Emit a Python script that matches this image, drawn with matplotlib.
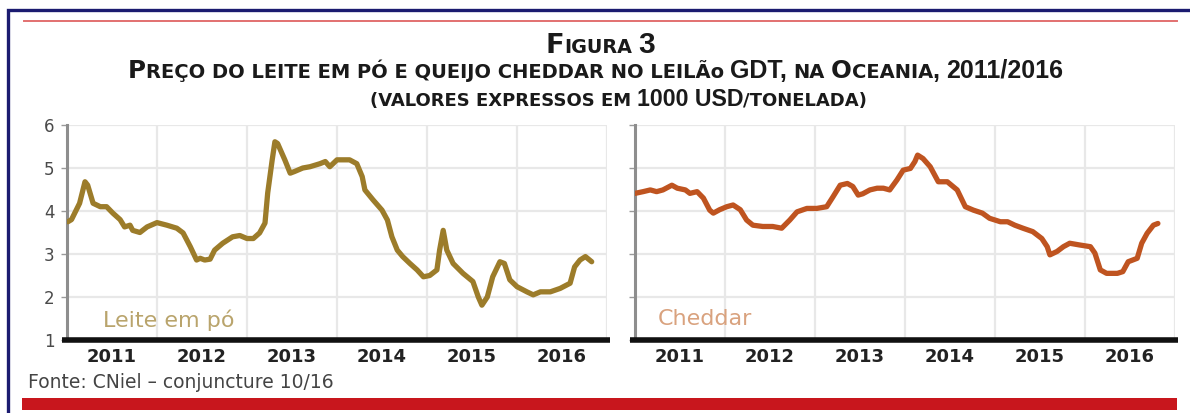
import matplotlib
matplotlib.use("Agg")
import matplotlib.pyplot as plt
from matplotlib.lines import Line2D
from matplotlib.patches import Rectangle
from matplotlib.ticker import NullFormatter

# ---- data (1000 USD per tonne, GDT auctions, Oceania) ----
leite_years = [2011.01, 2011.05, 2011.14, 2011.20, 2011.23, 2011.29, 2011.37, 2011.44,
               2011.51, 2011.59, 2011.64, 2011.70, 2011.73, 2011.81, 2011.89, 2012.00,
               2012.11, 2012.22, 2012.29, 2012.37, 2012.44, 2012.48, 2012.53, 2012.59,
               2012.64, 2012.73, 2012.84, 2012.92, 2013.00, 2013.07, 2013.14, 2013.20,
               2013.23, 2013.28, 2013.31, 2013.34, 2013.42, 2013.48, 2013.53, 2013.62,
               2013.70, 2013.81, 2013.87, 2013.92, 2014.00, 2014.14, 2014.22, 2014.28,
               2014.31, 2014.40, 2014.50, 2014.56, 2014.61, 2014.67, 2014.73, 2014.81,
               2014.89, 2014.96, 2015.03, 2015.11, 2015.14, 2015.18, 2015.22, 2015.29,
               2015.40, 2015.51, 2015.57, 2015.61, 2015.67, 2015.73, 2015.81, 2015.86,
               2015.92, 2016.00, 2016.11, 2016.18, 2016.26, 2016.37, 2016.48, 2016.59,
               2016.64, 2016.70, 2016.76, 2016.83]
leite_values = [3.75, 3.80, 4.18, 4.68, 4.60, 4.18, 4.10, 4.10,
                3.95, 3.80, 3.63, 3.67, 3.55, 3.50, 3.63, 3.73,
                3.67, 3.60, 3.49, 3.17, 2.86, 2.90, 2.86, 2.88,
                3.09, 3.25, 3.40, 3.43, 3.36, 3.36, 3.49, 3.72,
                4.42, 5.19, 5.61, 5.57, 5.19, 4.88, 4.92, 5.00,
                5.03, 5.10, 5.15, 5.03, 5.19, 5.19, 5.10, 4.80,
                4.49, 4.26, 4.02, 3.79, 3.40, 3.09, 2.94, 2.78,
                2.63, 2.47, 2.50, 2.63, 3.09, 3.55, 3.09, 2.78,
                2.55, 2.36, 2.00, 1.81, 2.00, 2.47, 2.82, 2.78,
                2.40, 2.24, 2.12, 2.05, 2.12, 2.12, 2.20, 2.32,
                2.70, 2.86, 2.94, 2.82]

cheddar_years = [2011.00, 2011.09, 2011.17, 2011.24, 2011.31, 2011.41, 2011.47, 2011.56,
                 2011.61, 2011.69, 2011.76, 2011.83, 2011.87, 2011.94, 2012.02, 2012.09,
                 2012.17, 2012.24, 2012.31, 2012.42, 2012.53, 2012.63, 2012.72, 2012.80,
                 2012.91, 2013.02, 2013.13, 2013.20, 2013.28, 2013.36, 2013.42, 2013.48,
                 2013.53, 2013.61, 2013.69, 2013.76, 2013.83, 2013.91, 2013.98, 2014.06,
                 2014.11, 2014.14, 2014.20, 2014.28, 2014.37, 2014.47, 2014.58, 2014.67,
                 2014.76, 2014.86, 2014.94, 2015.06, 2015.14, 2015.22, 2015.31, 2015.42,
                 2015.52, 2015.58, 2015.61, 2015.69, 2015.76, 2015.83, 2015.94, 2016.06,
                 2016.11, 2016.17, 2016.24, 2016.36, 2016.42, 2016.48, 2016.58, 2016.63,
                 2016.69, 2016.76, 2016.81]
cheddar_values = [4.41, 4.45, 4.49, 4.45, 4.49, 4.60, 4.53, 4.49,
                  4.41, 4.45, 4.30, 4.02, 3.95, 4.03, 4.10, 4.14,
                  4.03, 3.79, 3.67, 3.64, 3.64, 3.60, 3.79, 3.98,
                  4.06, 4.06, 4.10, 4.33, 4.60, 4.64, 4.57, 4.37,
                  4.40, 4.49, 4.53, 4.53, 4.49, 4.72, 4.95, 4.99,
                  5.15, 5.30, 5.22, 5.03, 4.68, 4.68, 4.49, 4.10,
                  4.02, 3.95, 3.83, 3.75, 3.75, 3.67, 3.60, 3.52,
                  3.36, 3.17, 2.98, 3.06, 3.17, 3.25, 3.21, 3.17,
                  3.02, 2.63, 2.55, 2.55, 2.59, 2.82, 2.90, 3.25,
                  3.48, 3.67, 3.71]

years = [2011, 2012, 2013, 2014, 2015, 2016]
year_labels = ["2011", "2012", "2013", "2014", "2015", "2016"]
y_ticks = [1, 2, 3, 4, 5, 6]
y_tick_labels = ["1", "2", "3", "4", "5", "6"]
series_names = ["Leite em pó", "Cheddar"]

W, H = 1190, 413
fig = plt.figure(figsize=(W / 100, H / 100), dpi=100)
fig.patch.set_facecolor("white")


def fx(x):
    return x / W


def fy(y):
    return 1 - y / H


# ---- frame decorations ----
fig.add_artist(Rectangle((fx(8), fy(440)), fx(1200) - fx(8), fy(10) - fy(440),
                         transform=fig.transFigure, fill=False,
                         edgecolor="#1b1b70", lw=2.4, clip_on=False))
fig.add_artist(Line2D([fx(24), fx(1177)], [fy(21), fy(21)], transform=fig.transFigure,
                      color="#e27070", lw=1.4))
fig.add_artist(Rectangle((fx(22), fy(410)), fx(1177) - fx(22), fy(398) - fy(410),
                         transform=fig.transFigure, facecolor="#c8161d",
                         edgecolor="none"))

# ---- title lines built from runs (small caps imitation) ----
HEAD = "DejaVu Sans"
NUM = "Liberation Sans"
renderer = fig.canvas.get_renderer()


def draw_runs(runs, baseline_px, left_px, right_px):
    """Lay out text runs on one baseline, scaled so they span left_px..right_px."""
    def build(scale):
        items, total = [], 0.0
        for txt, size, family, gap in runs:
            t = fig.text(0, fy(baseline_px), txt, fontsize=size * scale, family=family,
                         fontweight="bold", color="#1a1a1a", va="baseline", ha="left")
            w = t.get_window_extent(renderer).width
            items.append((t, w, gap * scale))
            total += w + gap * scale
        return items, total

    items, total = build(1.0)
    scale = (right_px - left_px) / total
    for t, _, _ in items:
        t.remove()
    items, total = build(scale)
    x = left_px
    for t, w, gap in items:
        t.set_x(fx(x))
        x += w + gap


SC, CP, NB = 11.5, 14.5, 14.8
draw_runs([("F", 16.5, HEAD, 0), ("IGURA", SC, HEAD, 5), ("3", 18, NUM, 0)],
          53, 546, 655)
draw_runs([("P", CP, HEAD, 0),
           ("REÇO DO LEITE EM PÓ E QUEIJO CHEDDAR NO LEILÃo", SC, HEAD, 5),
           ("GDT,", NB, NUM, 5), ("NA", SC, HEAD, 5), ("O", CP, HEAD, 0),
           ("CEANIA", SC, HEAD, 0), (",", NB, NUM, 5), ("2011/2016", NB, NUM, 0)],
          78, 128, 1066)
draw_runs([("(VALORES EXPRESSOS EM", SC, HEAD, 5), ("1000 USD", NB, NUM, 0),
           ("/TONELADA)", SC, HEAD, 0)], 106, 370, 868)

# ---- panels ----
ax_w = 540 / W
ax_h = 215 / H
ax_b = fy(340)
ax_left = fig.add_axes([fx(67), ax_b, ax_w, ax_h])
ax_right = fig.add_axes([fx(635), ax_b, ax_w, ax_h])

panels = [
    (ax_left, leite_years, leite_values, "#9c7c2a", "#b9a46c", True, (0.067, 0.093)),
    (ax_right, cheddar_years, cheddar_values, "#bf5420", "#d9a27e", False, (0.043, 0.098)),
]

for (ax, xs, ys, color, name_color, show_y, name_pos), name in zip(panels, series_names):
    ax.plot(xs, ys, color=color, lw=3.8, solid_joinstyle="round",
            solid_capstyle="round", zorder=3)
    ax.set_xlim(2011, 2017)
    ax.set_ylim(1, 6)
    ax.set_xticks(list(range(2011, 2018)))
    ax.xaxis.set_major_formatter(NullFormatter())
    ax.set_xticks([y + 0.5 for y in years], minor=True)
    ax.set_xticklabels(year_labels, minor=True, fontsize=13, fontweight="bold",
                       color="#222222")
    ax.tick_params(axis="x", which="both", length=0)
    ax.tick_params(axis="x", which="minor", pad=6)
    ax.set_yticks(y_ticks)
    ax.set_yticklabels(y_tick_labels if show_y else [], fontsize=12, color="#4a4a4a")
    ax.tick_params(axis="y", length=4, width=1, color="#9a9a9a", pad=5,
                   labelleft=show_y)
    ax.grid(True, which="major", color="#e8e8e8", lw=1.6)
    ax.set_axisbelow(True)
    for side in ("top", "right", "bottom"):
        ax.spines[side].set_visible(False)
    ax.spines["left"].set_color("#8e8e8e")
    ax.spines["left"].set_linewidth(2.2)
    ax.plot([-0.01, 1.006], [0, 0], transform=ax.transAxes, color="#111111",
            lw=4, solid_capstyle="butt", clip_on=False, zorder=4)
    ax.text(name_pos[0], name_pos[1], name, transform=ax.transAxes, fontsize=16,
            color=name_color, va="center", ha="left")

fig.text(fx(28), fy(383), "Fonte: CNiel – conjuncture 10/16", fontsize=13.5,
         color="#444444", va="center", ha="left")

fig.savefig("out.png", dpi=100)
